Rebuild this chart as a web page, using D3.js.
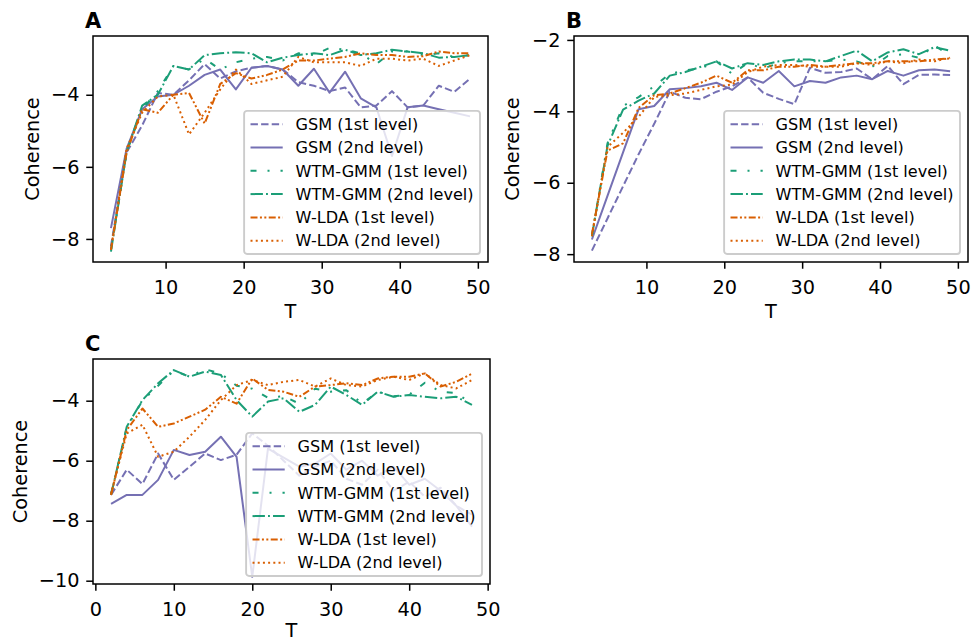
<!DOCTYPE html>
<html>
<head>
<meta charset="utf-8">
<script src="https://cdn.jsdelivr.net/npm/d3@7"></script>
<style>
  body { margin: 0; background: #fff; }
  text { font-family: "DejaVu Sans", sans-serif; fill: #000; }
</style>
</head>
<body>
<script>
const width = 980,
  height = 642;

// x values (number of topics T)
const tOdd = [3, 5, 7, 9, 11, 13, 15, 17, 19, 21, 23, 25, 27, 29, 31, 33, 35, 37, 39, 41, 43, 45, 47, 49];
const tEven = [2, 4, 6, 8, 10, 12, 14, 16, 18, 20, 22, 24, 26, 28, 30, 32, 34, 36, 38, 40, 42, 44, 46, 48];

const seriesNames = [
  "GSM (1st level)",
  "GSM (2nd level)",
  "WTM-GMM (1st level)",
  "WTM-GMM (2nd level)",
  "W-LDA (1st level)",
  "W-LDA (2nd level)"
];

// panel A
const gsm1A = [-8.2, -5.6, -4.85, -3.95, -4.0, -3.6, -3.15, -3.55, -3.35, -3.25, -3.2, -3.3, -3.65, -3.75, -3.9, -3.8, -4.35, -4.3, -3.9, -4.35, -4.3, -3.75, -3.92, -3.55];
const gsm2A = [-7.7, -5.5, -4.4, -4.05, -4.0, -3.75, -3.45, -3.3, -3.85, -3.25, -3.2, -3.3, -3.75, -3.28, -3.94, -3.36, -4.1, -4.35, -5.7, -4.35, -4.3, -4.4, -4.5, -4.6];
const wtm1A = [-8.3, -5.6, -4.4, -3.9, -3.2, -3.3, -3.0, -3.3, -3.1, -3.0, -2.95, -3.05, -2.85, -2.9, -2.7, -2.75, -2.85, -3.15, -2.8, -2.8, -2.9, -2.85, -2.95, -2.9];
const wtm2A = [-8.35, -5.6, -4.3, -4.0, -3.2, -3.3, -2.9, -2.85, -2.82, -2.85, -3.1, -2.97, -2.9, -2.85, -2.9, -2.75, -2.9, -2.85, -2.75, -2.8, -2.85, -2.97, -2.95, -2.9];
const wlda1A = [-8.3, -5.6, -4.4, -4.5, -4.0, -3.95, -4.8, -3.7, -3.4, -3.55, -3.45, -3.3, -3.05, -3.05, -3.0, -2.95, -2.85, -2.9, -2.9, -2.95, -2.93, -2.8, -2.85, -2.85];
const wlda2A = [-8.3, -5.5, -4.5, -4.05, -4.0, -5.1, -4.5, -3.85, -3.3, -3.7, -3.6, -3.5, -2.95, -3.1, -3.1, -3.1, -3.2, -3.0, -3.0, -3.05, -3.0, -3.2, -3.05, -2.9];

// panel B
const gsm1B = [-7.9, -7.0, -6.1, -5.2, -4.35, -3.45, -3.62, -3.66, -3.45, -3.3, -3.05, -3.48, -3.65, -3.8, -2.78, -2.92, -2.9, -2.8, -3.1, -2.73, -3.24, -2.98, -2.97, -2.98];
const gsm2B = [-7.59, -6.37, -5.15, -3.94, -3.85, -3.38, -3.35, -3.3, -3.2, -3.4, -3.05, -3.2, -2.87, -3.3, -3.15, -3.2, -3.05, -3.0, -3.1, -2.87, -3.0, -2.85, -2.83, -2.88];
const wtm1B = [-7.5, -4.9, -3.85, -3.6, -3.3, -2.95, -2.85, -2.8, -2.6, -2.95, -2.65, -2.8, -2.65, -2.6, -2.6, -2.6, -2.55, -2.6, -2.75, -2.45, -2.4, -2.5, -2.15, -2.45];
const wtm2B = [-7.49, -4.97, -3.95, -3.7, -3.5, -3.0, -2.9, -2.75, -2.6, -2.8, -2.65, -2.7, -2.6, -2.55, -2.55, -2.6, -2.45, -2.3, -2.6, -2.35, -2.26, -2.4, -2.2, -2.3];
const wlda1B = [-7.44, -5.1, -4.9, -3.9, -3.55, -3.5, -3.35, -3.2, -3.0, -3.2, -2.85, -2.85, -2.75, -2.75, -2.7, -2.75, -2.7, -2.65, -2.65, -2.6, -2.6, -2.6, -2.55, -2.52];
const wlda2B = [-7.5, -5.0, -4.6, -4.15, -3.6, -3.55, -3.5, -3.4, -3.3, -3.25, -2.9, -2.75, -2.7, -2.7, -2.75, -2.75, -2.75, -2.65, -2.7, -2.6, -2.65, -2.55, -2.6, -2.5];

// panel C
const gsm1C = [-7.14, -6.3, -6.78, -5.76, -6.64, -6.2, -5.76, -5.98, -5.8, -5.09, -5.5, -6.0, -6.5, -6.2, -6.0, -6.6, -6.8, -6.3, -7.0, -6.7, -7.2, -6.9, -7.5, -7.8];
const gsm2C = [-7.44, -7.14, -7.14, -6.64, -5.64, -5.81, -5.7, -5.2, -5.87, -9.87, -5.6, -5.9, -6.2, -6.1, -5.76, -6.3, -6.0, -6.5, -6.2, -6.8, -6.6, -7.0, -7.5, -8.2];
const wtm1C = [-7.1, -4.9, -4.0, -3.5, -3.0, -3.2, -2.95, -3.1, -3.5, -3.6, -3.9, -3.85, -4.1, -3.6, -3.7, -3.65, -4.1, -3.7, -3.85, -3.8, -3.4, -3.7, -3.75, -4.1];
const wtm2C = [-7.14, -4.87, -3.98, -3.42, -2.98, -3.2, -3.03, -3.14, -3.98, -4.53, -4.03, -3.92, -4.37, -4.14, -3.53, -3.81, -4.14, -3.7, -3.87, -3.81, -3.87, -3.92, -3.87, -4.14];
const wlda1C = [-7.14, -4.98, -4.26, -4.87, -4.76, -4.53, -4.3, -3.87, -4.1, -3.26, -3.64, -3.7, -3.87, -3.53, -3.48, -3.42, -3.48, -3.26, -3.2, -3.2, -3.09, -3.53, -3.37, -3.1];
const wlda2C = [-7.1, -5.09, -4.8, -5.87, -5.7, -5.2, -4.64, -3.98, -3.48, -3.31, -3.48, -3.37, -3.31, -3.53, -3.26, -3.48, -3.53, -3.31, -3.2, -3.31, -3.09, -3.48, -3.59, -3.31];

// colours and dash patterns per series (Dark2 palette)
const colors = ["#7570b3", "#7570b3", "#1b9e77", "#1b9e77", "#d95f02", "#d95f02"];
const dashes = ["7.4,3.2", null, "6,11,2,11", "12.4,3.1,1.9,3.1", "7,2.4,2,2.4,2,2.4", "2,3.2"];

const panels = [
  {
    letter: "A", x: tOdd, series: [gsm1A, gsm2A, wtm1A, wtm2A, wlda1A, wlda2A],
    xDomain: [0.7, 51.3], yDomain: [-8.64, -2.37],
    left: 93, right: 488, top: 36, bottom: 262,
    xTicks: [10, 20, 30, 40, 50], yTicks: [-4, -6, -8], ylabelX: 32, xlabelDy: 56
  },
  {
    letter: "B", x: tOdd, series: [gsm1B, gsm2B, wtm1B, wtm2B, wlda1B, wlda2B],
    xDomain: [0.7, 51.3], yDomain: [-8.22, -1.89],
    left: 574, right: 968, top: 36, bottom: 262,
    xTicks: [10, 20, 30, 40, 50], yTicks: [-2, -4, -6, -8], ylabelX: 512, xlabelDy: 56
  },
  {
    letter: "C", x: tEven, series: [gsm1C, gsm2C, wtm1C, wtm2C, wlda1C, wlda2C],
    xDomain: [-0.3, 50.3], yDomain: [-10.11, -2.61],
    left: 93, right: 490, top: 359, bottom: 584,
    xTicks: [0, 10, 20, 30, 40, 50], yTicks: [-4, -6, -8, -10], ylabelX: 20, xlabelDy: 53
  }
];

const fmt = (v) => (v < 0 ? "\u2212" + Math.abs(v) : String(v));

const svg = d3
  .select("body")
  .append("svg")
  .attr("width", width)
  .attr("height", height);

panels.forEach((p, pi) => {
  const x = d3.scaleLinear().domain(p.xDomain).range([p.left, p.right]);
  const y = d3.scaleLinear().domain(p.yDomain).range([p.bottom, p.top]);
  const g = svg.append("g");

  // clip lines to the axes box
  const clipId = "clip" + pi;
  svg.append("clipPath").attr("id", clipId)
    .append("rect")
    .attr("x", p.left).attr("y", p.top)
    .attr("width", p.right - p.left).attr("height", p.bottom - p.top);

  const line = d3.line().x((d) => x(d[0])).y((d) => y(d[1]));

  const lines = g.append("g").attr("clip-path", `url(#${clipId})`);
  p.series.forEach((vals, i) => {
    lines.append("path")
      .datum(p.x.map((t, j) => [t, vals[j]]))
      .attr("d", line)
      .attr("fill", "none")
      .attr("stroke", colors[i])
      .attr("stroke-width", 2)
      .attr("stroke-linejoin", "round")
      .attr("stroke-dasharray", dashes[i]);
  });

  // axes with matplotlib-like ticks
  const xAxis = d3.axisBottom(x).tickValues(p.xTicks).tickSize(6.75).tickPadding(6.75).tickFormat(fmt);
  const yAxis = d3.axisLeft(y).tickValues(p.yTicks).tickSize(6.75).tickPadding(6.75).tickFormat(fmt);

  const gx = g.append("g").attr("transform", `translate(0,${p.bottom})`).call(xAxis);
  const gy = g.append("g").attr("transform", `translate(${p.left},0)`).call(yAxis);
  [gx, gy].forEach((a) => {
    a.select(".domain").remove();
    a.selectAll(".tick line").attr("stroke", "#000").attr("stroke-width", 1.5);
    a.selectAll(".tick text")
      .attr("font-family", "DejaVu Sans")
      .attr("font-size", 19.3)
      .attr("fill", "#000");
  });
  gx.selectAll(".tick text").attr("dy", "0.95em");

  // frame
  g.append("rect")
    .attr("x", p.left).attr("y", p.top)
    .attr("width", p.right - p.left).attr("height", p.bottom - p.top)
    .attr("fill", "none").attr("stroke", "#000").attr("stroke-width", 1.5);

  // labels
  g.append("text")
    .attr("x", (p.left + p.right) / 2)
    .attr("y", p.bottom + p.xlabelDy)
    .attr("text-anchor", "middle")
    .attr("font-size", 19.3)
    .text("T");

  g.append("text")
    .attr("transform", `translate(${p.ylabelX},${(p.top + p.bottom) / 2}) rotate(-90)`)
    .attr("text-anchor", "middle")
    .attr("dy", "0.35em")
    .attr("font-size", 19.3)
    .text("Coherence");

  g.append("text")
    .attr("x", p.left - 8)
    .attr("y", p.top - 8)
    .attr("font-size", 21)
    .attr("font-weight", "bold")
    .text(p.letter);

  // legend, lower right
  const fs = 16.1,
    rowH = 23.3,
    padTop = 13.3,
    textX = 51.5;
  const leg = g.append("g");
  const box = leg.append("rect");
  const items = leg.selectAll("g.item")
    .data(seriesNames)
    .join("g")
    .attr("class", "item");
  items.append("line")
    .attr("x1", 6.4).attr("x2", 38.6)
    .attr("y1", (d, i) => padTop + i * rowH)
    .attr("y2", (d, i) => padTop + i * rowH)
    .attr("stroke", (d, i) => colors[i])
    .attr("stroke-width", 2)
    .attr("stroke-dasharray", (d, i) => dashes[i]);
  const texts = items.append("text")
    .attr("x", textX)
    .attr("y", (d, i) => padTop + i * rowH)
    .attr("dy", "0.36em")
    .attr("font-size", fs)
    .text((d) => d);
  let maxW = 0;
  texts.each(function () { maxW = Math.max(maxW, this.getComputedTextLength()); });
  const bw = textX + maxW + 6.4,
    bh = padTop * 2 + rowH * 5;
  box.attr("width", bw).attr("height", bh)
    .attr("rx", 3).attr("ry", 3)
    .attr("fill", "#fff").attr("fill-opacity", 0.8)
    .attr("stroke", "#cccccc").attr("stroke-width", 1.9);
  leg.attr("transform", `translate(${p.right - 8 - bw},${p.bottom - 8 - bh})`);
});
</script>
</body>
</html>
